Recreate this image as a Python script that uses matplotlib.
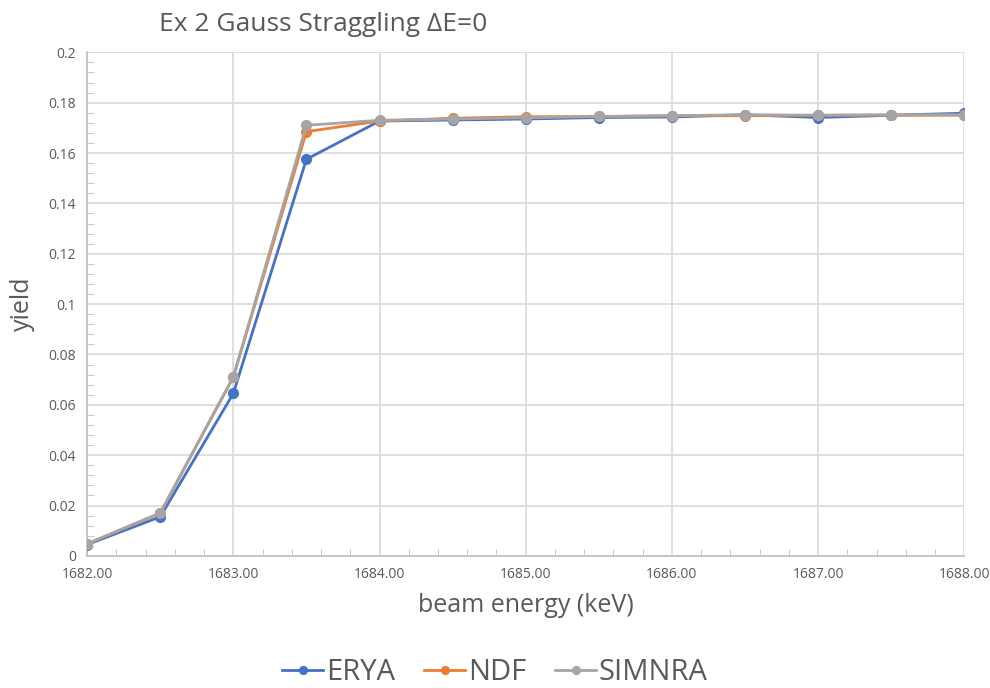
import matplotlib.pyplot as plt
from matplotlib.ticker import MultipleLocator, FormatStrFormatter

plt.rcParams['font.family'] = ['Open Sans', 'DejaVu Sans']

energy = [1682.0, 1682.5, 1683.0, 1683.5, 1684.0, 1684.5, 1685.0,
          1685.5, 1686.0, 1686.5, 1687.0, 1687.5, 1688.0]
erya = [0.0045, 0.0155, 0.0645, 0.1575, 0.1727, 0.1731, 0.1735,
        0.1741, 0.1743, 0.1752, 0.1741, 0.1750, 0.1758]
ndf = [0.0048, 0.0170, 0.0710, 0.1685, 0.1727, 0.1738, 0.1744,
       0.1745, 0.1748, 0.1748, 0.1750, 0.1750, 0.1750]
simnra = [0.0048, 0.0170, 0.0710, 0.1710, 0.1730, 0.1735, 0.1740,
          0.1745, 0.1748, 0.1752, 0.1750, 0.1752, 0.1752]

txt = '#595959'

fig = plt.figure(figsize=(9.9, 6.88), dpi=100)
ax = fig.add_axes([0.088, 0.192, 0.886, 0.732])

ax.plot(energy, erya, color='#4472C4', lw=2, marker='o', ms=7, label='ERYA', zorder=3)
ax.plot(energy, ndf, color='#ED7D31', lw=2, marker='o', ms=7, label='NDF', zorder=4)
ax.plot(energy, simnra, color='#A5A5A5', lw=2, marker='o', ms=7, label='SIMNRA', zorder=5)

ax.set_xlim(1682, 1688)
ax.set_ylim(0, 0.2)
ax.xaxis.set_major_locator(MultipleLocator(1))
ax.xaxis.set_minor_locator(MultipleLocator(0.2))
ax.yaxis.set_minor_locator(MultipleLocator(0.004))
ax.xaxis.set_major_formatter(FormatStrFormatter('%.2f'))
ax.set_yticks([0, 0.02, 0.04, 0.06, 0.08, 0.1, 0.12, 0.14, 0.16, 0.18, 0.2])
ax.set_yticklabels(['0', '0.02', '0.04', '0.06', '0.08', '0.1', '0.12',
                    '0.14', '0.16', '0.18', '0.2'])

ax.grid(True, which='major', color='#D9D9D9', lw=1.2, zorder=0)
ax.set_axisbelow(True)
for s in ['top', 'right']:
    ax.spines[s].set_visible(False)
for s in ['left', 'bottom']:
    ax.spines[s].set_color('#BFBFBF')
    ax.spines[s].set_linewidth(1.2)

ax.tick_params(which='both', direction='in', colors='#BFBFBF', labelcolor=txt, labelsize=10)
ax.tick_params(which='major', length=0, pad=8)
ax.tick_params(which='minor', length=5)

ax.set_xlabel('beam energy (keV)', fontsize=18, color=txt, labelpad=8)
ax.set_ylabel('yield', fontsize=18, color=txt, labelpad=10)

fig.text(0.326, 0.965, 'Ex 2 Gauss Straggling ΔE=0', fontsize=19, color=txt,
         ha='center', va='center')

fig.legend(loc='center', bbox_to_anchor=(0.5, 0.022), ncol=3, frameon=False,
           fontsize=21, labelcolor=txt, handlelength=1.4, handletextpad=0.1,
           columnspacing=1.0, markerscale=0.8)

fig.savefig('out.png', dpi=100)
